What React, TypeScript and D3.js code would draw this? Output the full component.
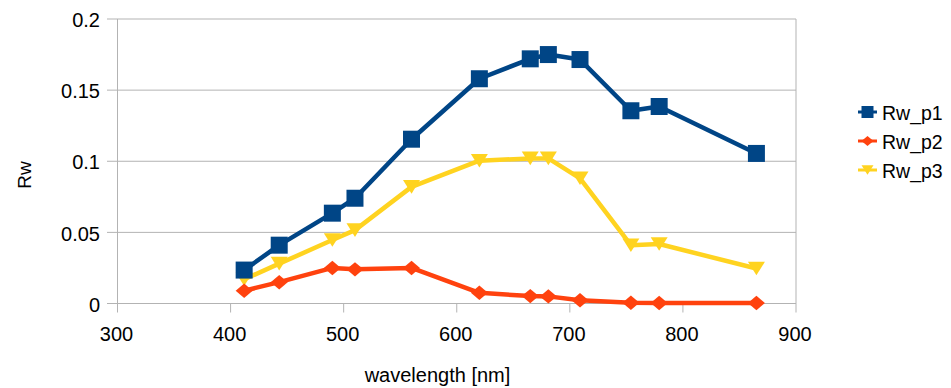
import React, { useEffect, useRef } from 'react';
import * as d3 from 'd3';

const wavelengths = [412, 443, 490, 510, 560, 620, 665, 681, 709, 754, 779, 865];
const rwP1 = [0.0235, 0.041, 0.0635, 0.074, 0.1155, 0.158, 0.172, 0.175, 0.1715, 0.1355, 0.1385, 0.1055];
const rwP2 = [0.009, 0.015, 0.025, 0.024, 0.025, 0.0075, 0.0052, 0.005, 0.0023, 0.0005, 0.0004, 0.0003];
const rwP3 = [0.017, 0.028, 0.0446, 0.0516, 0.082, 0.1004, 0.102, 0.102, 0.088, 0.041, 0.0418, 0.0246];
const seriesNames = ['Rw_p1', 'Rw_p2', 'Rw_p3'];
const xTicks = [300, 400, 500, 600, 700, 800, 900];
const yTicks = [0, 0.05, 0.1, 0.15, 0.2];

const colors = ['#004586', '#ff420e', '#ffd320'];
const FONT = '"Liberation Sans", Arial, sans-serif';

// marker paths centred at 0,0
const markerPath = (kind: number, s: number) => {
    if (kind === 0) {
        return `M${-s},${-s}H${s}V${s}H${-s}Z`;
    }
    if (kind === 1) {
        const h = s * 0.85;
        return `M${-s},0L0,${-h}L${s},0L0,${h}Z`;
    }
    const h = s * 0.8;
    return `M${-s},${-h}H${s}L0,${h}Z`;
};

const App = () => {
    const chartRef = useRef<SVGSVGElement | null>(null);

    useEffect(() => {
        drawChart();
        // eslint-disable-next-line react-hooks/exhaustive-deps
    }, []);

    const drawChart = () => {
        const svg = d3.select(chartRef.current);
        svg.selectAll('*').remove();

        const x = d3.scaleLinear().domain([300, 900]).range([117.5, 796]);
        const y = d3.scaleLinear().domain([0, 0.2]).range([303.5, 19]);

        // gridlines
        svg.append('g')
            .selectAll('line')
            .data(yTicks)
            .enter()
            .append('line')
            .attr('x1', 107)
            .attr('x2', x(900))
            .attr('y1', d => y(d))
            .attr('y2', d => y(d))
            .attr('stroke', '#b3b3b3')
            .attr('stroke-width', 1);

        // x ticks
        svg.append('g')
            .selectAll('line')
            .data(xTicks)
            .enter()
            .append('line')
            .attr('x1', d => x(d))
            .attr('x2', d => x(d))
            .attr('y1', d => (d === 300 || d === 900) ? y(0.2) : y(0))
            .attr('y2', y(0) + 9)
            .attr('stroke', '#b3b3b3')
            .attr('stroke-width', 1);

        // tick labels
        svg.append('g')
            .selectAll('text')
            .data(yTicks)
            .enter()
            .append('text')
            .attr('x', 100)
            .attr('y', d => y(d) + 1)
            .attr('dy', '0.36em')
            .attr('text-anchor', 'end')
            .style('font-family', FONT)
            .style('font-size', '20px')
            .attr('fill', '#000')
            .text(d => d3.format('')(d));

        svg.append('g')
            .selectAll('text')
            .data(xTicks)
            .enter()
            .append('text')
            .attr('x', d => x(d) - 1)
            .attr('y', 334)
            .attr('dy', '0.36em')
            .attr('text-anchor', 'middle')
            .style('font-family', FONT)
            .style('font-size', '20px')
            .attr('fill', '#000')
            .text(d => d);

        // axis titles
        svg.append('text')
            .attr('x', 437.5)
            .attr('y', 375)
            .attr('dy', '0.36em')
            .attr('text-anchor', 'middle')
            .style('font-family', FONT)
            .style('font-size', '20px')
            .text('wavelength [nm]');

        svg.append('text')
            .attr('transform', 'translate(24,175) rotate(-90)')
            .attr('dy', '0.36em')
            .attr('text-anchor', 'middle')
            .style('font-family', FONT)
            .style('font-size', '19px')
            .text('Rw');

        const allSeries = [rwP1, rwP2, rwP3];
        const line = d3.line<number>()
            .x((d, i) => x(wavelengths[i]))
            .y(d => y(d));

        // lines
        allSeries.forEach((vals, k) => {
            svg.append('path')
                .datum(vals)
                .attr('d', line)
                .attr('fill', 'none')
                .attr('stroke', colors[k])
                .attr('stroke-width', 4.5)
                .attr('stroke-linejoin', 'round');
        });

        // markers, blue drawn last
        [2, 1, 0].forEach(k => {
            svg.append('g')
                .selectAll('path')
                .data(allSeries[k])
                .enter()
                .append('path')
                .attr('transform', (d, i) => `translate(${x(wavelengths[i])},${y(d)})`)
                .attr('d', markerPath(k, 8.5))
                .attr('fill', colors[k]);
        });

        // legend
        const legend = svg.append('g');
        seriesNames.forEach((name, k) => {
            const ly = 112 + k * 29;
            legend.append('line')
                .attr('x1', 858)
                .attr('x2', 877)
                .attr('y1', ly)
                .attr('y2', ly)
                .attr('stroke', colors[k])
                .attr('stroke-width', 3);
            legend.append('path')
                .attr('transform', `translate(867.5,${ly})`)
                .attr('d', markerPath(k, 6))
                .attr('fill', colors[k]);
            legend.append('text')
                .attr('x', 882)
                .attr('y', ly + 1)
                .attr('dy', '0.36em')
                .style('font-family', FONT)
                .style('font-size', '19.5px')
                .text(name);
        });
    };

    return (
        <svg ref={chartRef} width={951} height={388} style={{ position: 'absolute', left: 0, top: 0, background: '#fff' }}></svg>
    );
};

export default App;
